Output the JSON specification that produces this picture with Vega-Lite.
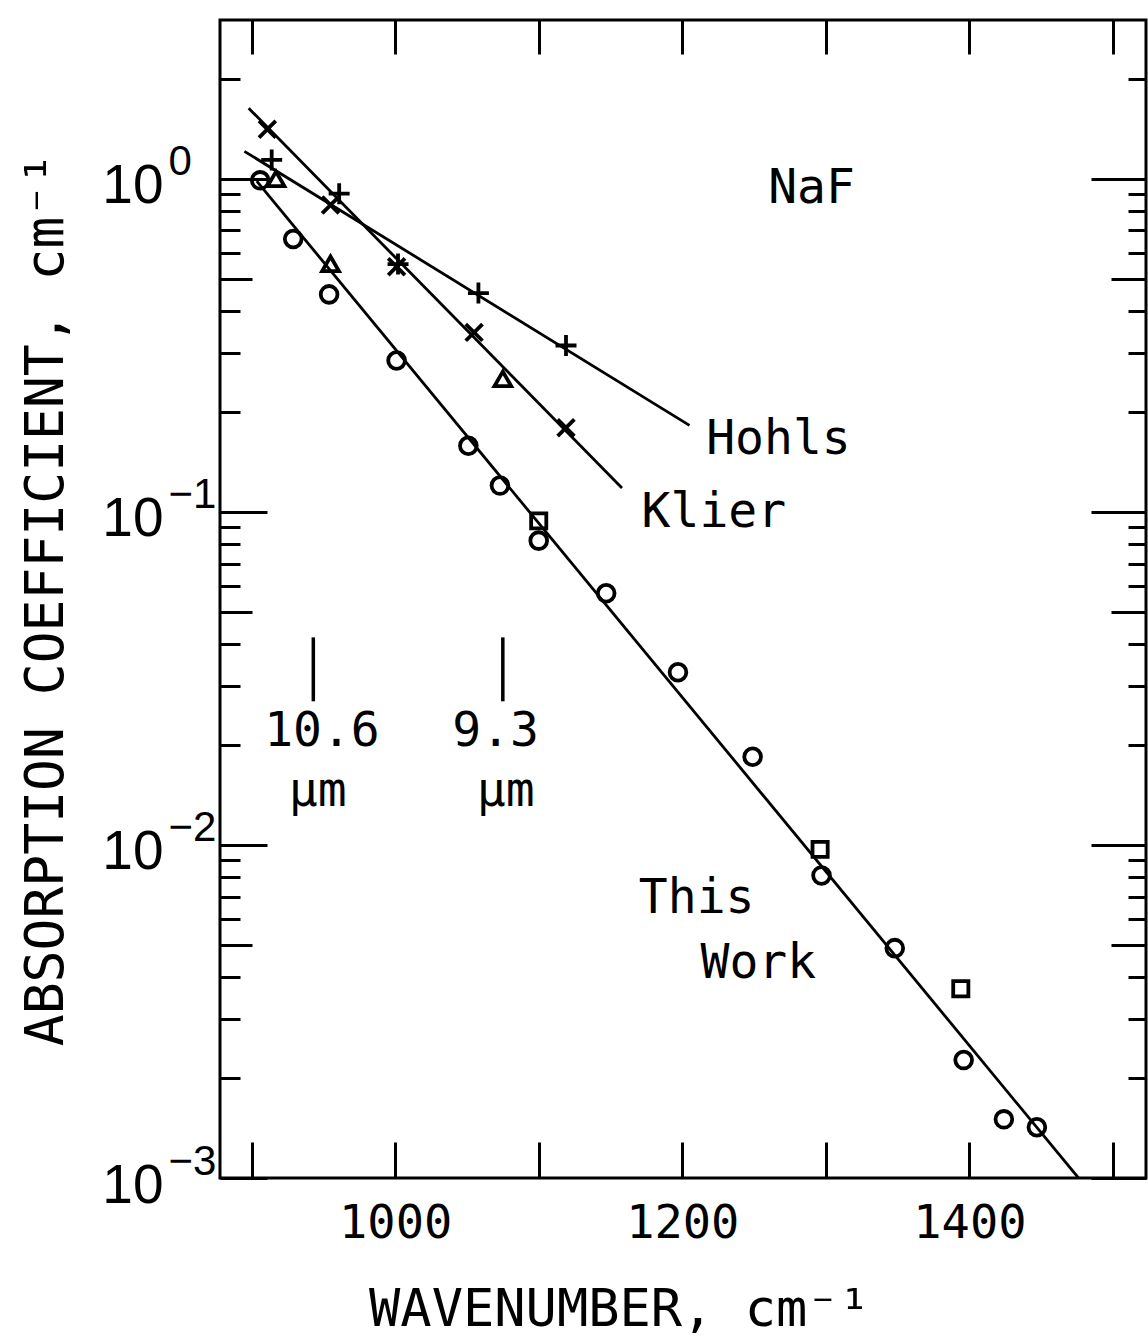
{
  "$schema": "https://vega.github.io/schema/vega-lite/v6.json",
  "width": 926,
  "height": 1158,
  "autosize": {"type": "none"},
  "padding": {"left": 220, "top": 20, "right": 2, "bottom": 165},
  "background": "white",
  "config": {
    "view": {"stroke": "black", "strokeWidth": 3},
    "axis": {"domain": false, "grid": false, "tickColor": "black", "labelColor": "black", "titleColor": "black"}
  },
  "datasets": {
    "fits": [
      {"fit": "This Work", "nu": 903.6, "alpha": 0.985},
      {"fit": "This Work", "nu": 1476, "alpha": 0.001},
      {"fit": "Hohls", "nu": 895, "alpha": 1.21},
      {"fit": "Hohls", "nu": 1205, "alpha": 0.182},
      {"fit": "Klier", "nu": 898, "alpha": 1.63},
      {"fit": "Klier", "nu": 1158, "alpha": 0.118}
    ],
    "obs": [
      {"source": "This Work", "marker": "circle", "nu": 906, "alpha": 0.99},
      {"source": "This Work", "marker": "circle", "nu": 929, "alpha": 0.66},
      {"source": "This Work", "marker": "circle", "nu": 954, "alpha": 0.45},
      {"source": "This Work", "marker": "circle", "nu": 1001, "alpha": 0.285},
      {"source": "This Work", "marker": "circle", "nu": 1051, "alpha": 0.158},
      {"source": "This Work", "marker": "circle", "nu": 1073, "alpha": 0.12},
      {"source": "This Work", "marker": "circle", "nu": 1100, "alpha": 0.082},
      {"source": "This Work", "marker": "circle", "nu": 1147, "alpha": 0.057},
      {"source": "This Work", "marker": "circle", "nu": 1197, "alpha": 0.033},
      {"source": "This Work", "marker": "circle", "nu": 1249, "alpha": 0.0184},
      {"source": "This Work", "marker": "circle", "nu": 1297, "alpha": 0.0081},
      {"source": "This Work", "marker": "circle", "nu": 1348, "alpha": 0.0049},
      {"source": "This Work", "marker": "circle", "nu": 1396, "alpha": 0.00226},
      {"source": "This Work", "marker": "circle", "nu": 1424, "alpha": 0.0015},
      {"source": "This Work", "marker": "circle", "nu": 1447, "alpha": 0.00142},
      {"source": "This Work", "marker": "square", "nu": 1100, "alpha": 0.094},
      {"source": "This Work", "marker": "square", "nu": 1296, "alpha": 0.0097},
      {"source": "This Work", "marker": "square", "nu": 1394, "alpha": 0.0037},
      {"source": "This Work", "marker": "triangle", "nu": 917, "alpha": 1.0},
      {"source": "This Work", "marker": "triangle", "nu": 955, "alpha": 0.556},
      {"source": "This Work", "marker": "triangle", "nu": 1075, "alpha": 0.251},
      {"source": "Hohls", "marker": "plus", "nu": 914, "alpha": 1.14},
      {"source": "Hohls", "marker": "plus", "nu": 961, "alpha": 0.903},
      {"source": "Hohls", "marker": "plus", "nu": 1002, "alpha": 0.555},
      {"source": "Hohls", "marker": "plus", "nu": 1058, "alpha": 0.454},
      {"source": "Hohls", "marker": "plus", "nu": 1119, "alpha": 0.316},
      {"source": "Klier", "marker": "cross", "nu": 911, "alpha": 1.41},
      {"source": "Klier", "marker": "cross", "nu": 955, "alpha": 0.835},
      {"source": "Klier", "marker": "cross", "nu": 1001, "alpha": 0.545},
      {"source": "Klier", "marker": "cross", "nu": 1055, "alpha": 0.346},
      {"source": "Klier", "marker": "cross", "nu": 1119, "alpha": 0.179}
    ],
    "laser": [
      {"line": "10.6 um", "nu": 943, "lo": 0.027, "hi": 0.042},
      {"line": "9.3 um", "nu": 1075, "lo": 0.027, "hi": 0.042}
    ],
    "notes": [
      {"label": "NaF", "nu": 1290, "alpha": 0.93},
      {"label": "Hohls", "nu": 1267, "alpha": 0.1646},
      {"label": "Klier", "nu": 1222, "alpha": 0.099},
      {"label": "This", "nu": 1210, "alpha": 0.0069},
      {"label": "Work", "nu": 1253, "alpha": 0.00438},
      {"label": "10.6", "nu": 949, "alpha": 0.0218},
      {"label": "µm", "nu": 946, "alpha": 0.0144},
      {"label": "9.3", "nu": 1070, "alpha": 0.0218},
      {"label": "µm", "nu": 1077, "alpha": 0.0144}
    ]
  },
  "layer": [
    {
      "data": {"name": "fits"},
      "mark": {"type": "line", "color": "black", "strokeWidth": 2.8, "clip": true},
      "encoding": {
        "x": {
          "field": "nu", "type": "quantitative",
          "scale": {"domain": [878, 1523], "nice": false, "zero": false},
          "axis": {
            "orient": "bottom", "values": [1000, 1200, 1400], "ticks": false, "format": "d",
            "labelFont": "DejaVu Sans Mono", "labelFontSize": 47, "labelPadding": 22,
            "labelFlush": false, "labelOverlap": false,
            "title": "WAVENUMBER, cm⁻¹", "titleFont": "DejaVu Sans Mono", "titleFontSize": 52,
            "titleFontWeight": "normal", "titleX": 399, "titleY": 147, "titleAlign": "center",
            "titleBaseline": "alphabetic"
          }
        },
        "y": {
          "field": "alpha", "type": "quantitative",
          "scale": {"type": "log", "domain": [0.001, 3], "nice": false},
          "axis": {
            "orient": "left", "labels": false, "tickWidth": 3,
            "values": [0.001, 0.002, 0.003, 0.004, 0.005, 0.006, 0.007, 0.008, 0.009, 0.01, 0.02, 0.03, 0.04, 0.05, 0.06, 0.07, 0.08, 0.09, 0.1, 0.2, 0.3, 0.4, 0.5, 0.6, 0.7, 0.8, 0.9, 1, 2],
            "tickSize": {
              "condition": [
                {"test": "abs(log(datum.value)/LN10 - round(log(datum.value)/LN10)) < 0.01", "value": -47},
                {"test": "abs(datum.value / pow(10, floor(log(datum.value)/LN10 + 0.001)) - 5) < 0.05", "value": -32}
              ],
              "value": -20
            },
            "title": "ABSORPTION COEFFICIENT, cm⁻¹", "titleFont": "DejaVu Sans Mono", "titleFontSize": 53,
            "titleFontWeight": "normal", "titleX": -158, "titleY": 579, "titleAngle": -90,
            "titleAlign": "center", "titleBaseline": "alphabetic"
          }
        },
        "detail": {"field": "fit", "type": "nominal"}
      }
    },
    {
      "data": {"name": "obs"},
      "mark": {"type": "point", "filled": false, "color": "black", "opacity": 1, "strokeWidth": 3.8},
      "encoding": {
        "x": {
          "field": "nu", "type": "quantitative",
          "scale": {"domain": [878, 1523], "nice": false, "zero": false},
          "axis": {
            "orient": "top", "values": [900, 1000, 1100, 1200, 1300, 1400, 1500],
            "labels": false, "tickSize": -34, "tickWidth": 3, "title": null
          }
        },
        "y": {
          "field": "alpha", "type": "quantitative",
          "scale": {"type": "log", "domain": [0.001, 3], "nice": false},
          "axis": {
            "orient": "left", "values": [0.001, 0.01, 0.1, 1], "ticks": false,
            "labelExpr": "'10'", "labelFont": "Liberation Sans", "labelFontSize": 55,
            "labelPadding": 57, "labelAlign": "right", "labelBaseline": "middle", "labelOffset": 7,
            "labelFlush": false, "labelOverlap": false, "title": null
          }
        },
        "shape": {
          "field": "marker", "type": "nominal",
          "scale": {
            "domain": ["circle", "square", "triangle", "plus", "cross"],
            "range": ["circle", "square", "triangle-up", "M-1,0L1,0M0,-1L0,1", "M-1,-1L1,1M-1,1L1,-1"]
          },
          "legend": null
        },
        "size": {
          "field": "marker", "type": "nominal",
          "scale": {"type": "ordinal", "domain": ["circle", "square", "triangle", "plus", "cross"], "range": [280, 230, 280, 440, 280]},
          "legend": null
        }
      }
    },
    {
      "data": {"name": "laser"},
      "mark": {"type": "rule", "color": "black", "strokeWidth": 3.5},
      "encoding": {
        "x": {
          "field": "nu", "type": "quantitative",
          "scale": {"domain": [878, 1523], "nice": false, "zero": false},
          "axis": {
            "orient": "bottom", "values": [900, 1000, 1100, 1200, 1300, 1400, 1500],
            "labels": false, "tickSize": -36, "tickWidth": 3, "title": null
          }
        },
        "y": {
          "field": "lo", "type": "quantitative",
          "scale": {"type": "log", "domain": [0.001, 3], "nice": false},
          "axis": {
            "orient": "left", "values": [0.001, 0.01, 0.1, 1], "ticks": false,
            "labelExpr": "datum.value > 0.5 ? '0' : datum.value > 0.05 ? '−1' : datum.value > 0.005 ? '−2' : '−3'",
            "labelFont": "Liberation Sans", "labelFontSize": 42, "labelPadding": 52,
            "labelAlign": "left", "labelBaseline": "middle", "labelOffset": -17,
            "labelFlush": false, "labelOverlap": false, "title": null
          }
        },
        "y2": {"field": "hi"}
      }
    },
    {
      "data": {"name": "notes"},
      "mark": {"type": "text", "font": "DejaVu Sans Mono", "fontSize": 48, "color": "black", "align": "center", "baseline": "middle"},
      "encoding": {
        "x": {
          "field": "nu", "type": "quantitative",
          "scale": {"domain": [878, 1523], "nice": false, "zero": false},
          "axis": null
        },
        "y": {
          "field": "alpha", "type": "quantitative",
          "scale": {"type": "log", "domain": [0.001, 3], "nice": false},
          "axis": {
            "orient": "right", "labels": false, "tickWidth": 3, "title": null,
            "values": [0.001, 0.002, 0.003, 0.004, 0.005, 0.006, 0.007, 0.008, 0.009, 0.01, 0.02, 0.03, 0.04, 0.05, 0.06, 0.07, 0.08, 0.09, 0.1, 0.2, 0.3, 0.4, 0.5, 0.6, 0.7, 0.8, 0.9, 1, 2],
            "tickSize": {
              "condition": [
                {"test": "abs(log(datum.value)/LN10 - round(log(datum.value)/LN10)) < 0.01", "value": -55},
                {"test": "abs(datum.value / pow(10, floor(log(datum.value)/LN10 + 0.001)) - 5) < 0.05", "value": -35}
              ],
              "value": -18
            }
          }
        },
        "text": {"field": "label", "type": "nominal"}
      }
    }
  ],
  "resolve": {
    "scale": {"x": "independent", "y": "independent"},
    "axis": {"x": "independent", "y": "independent"}
  }
}
